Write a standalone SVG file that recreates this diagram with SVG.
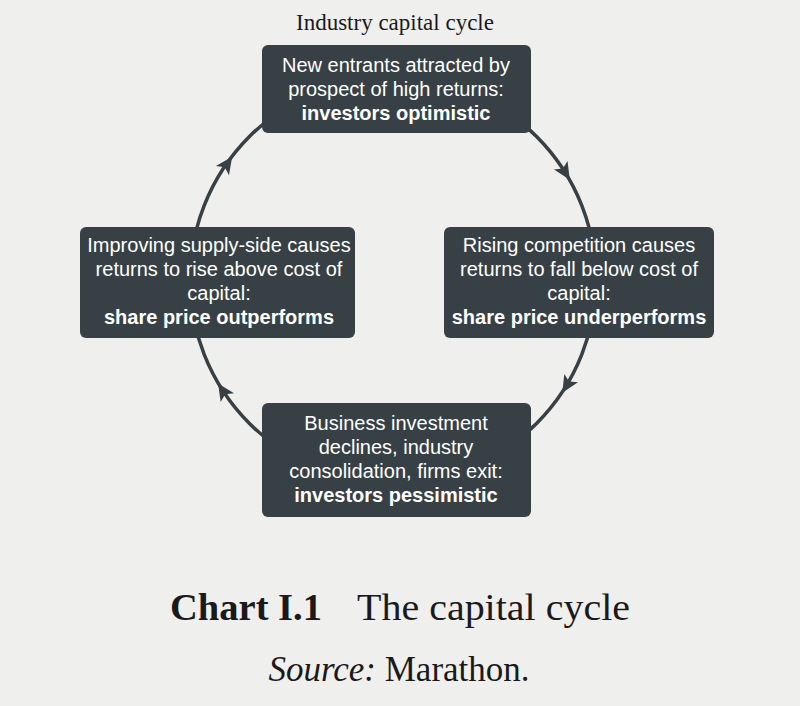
<svg xmlns="http://www.w3.org/2000/svg" width="800" height="706" viewBox="0 0 800 706">
<style>
.box{fill:#374145;}
.t{font-family:"Liberation Sans",Arial,sans-serif;font-size:20px;fill:#fff;text-anchor:middle;}
.b{font-weight:bold;}
.ser{font-family:"Liberation Serif","DejaVu Serif",serif;fill:#1a1a1a;}
.ah{fill:#374145;}
</style>
<rect width="800" height="706" fill="#efefed"/>
<text class="ser" x="395" y="30" font-size="23" text-anchor="middle">Industry capital cycle</text>
<g id="connectors">
<circle cx="393" cy="280" r="203" fill="none" stroke="#374145" stroke-width="3.5"/>
<polygon class="ah" points="9,0 -8,-8 -4,0 -8,8" transform="translate(565,172) rotate(58)"/>
<polygon class="ah" points="9,0 -8,-8 -4,0 -8,8" transform="translate(567,385) rotate(121)"/>
<polygon class="ah" points="9,0 -8,-8 -4,0 -8,8" transform="translate(223,391) rotate(237)"/>
<polygon class="ah" points="9,0 -8,-8 -4,0 -8,8" transform="translate(227,164) rotate(305)"/>
</g>
<g id="top">
<rect class="box" x="262" y="45" width="269" height="88" rx="6"/>
<text class="t" x="396" y="72">New entrants attracted by</text>
<text class="t" x="396" y="96">prospect of high returns:</text>
<text class="t b" x="396" y="120">investors optimistic</text>
</g>
<g id="right">
<rect class="box" x="444" y="227" width="270" height="111" rx="6"/>
<text class="t" x="579" y="252">Rising competition causes</text>
<text class="t" x="579" y="276">returns to fall below cost of</text>
<text class="t" x="579" y="300">capital:</text>
<text class="t b" x="579" y="324">share price underperforms</text>
</g>
<g id="bottom">
<rect class="box" x="262" y="403" width="269" height="114" rx="6"/>
<text class="t" x="396" y="430">Business investment</text>
<text class="t" x="396" y="454">declines, industry</text>
<text class="t" x="396" y="478">consolidation, firms exit:</text>
<text class="t b" x="396" y="502">investors pessimistic</text>
</g>
<g id="left">
<rect class="box" x="80" y="227" width="275" height="111" rx="6"/>
<text class="t" x="219" y="252">Improving supply-side causes</text>
<text class="t" x="219" y="276">returns to rise above cost of</text>
<text class="t" x="219" y="300">capital:</text>
<text class="t b" x="219" y="324">share price outperforms</text>
</g>
<text class="ser" x="170" y="620" font-size="38" font-weight="bold" textLength="152" lengthAdjust="spacingAndGlyphs">Chart I.1</text>
<text class="ser" x="357" y="620" font-size="38" textLength="273" lengthAdjust="spacingAndGlyphs">The capital cycle</text>
<text class="ser" x="399" y="681" font-size="35" text-anchor="middle"><tspan font-style="italic">Source:</tspan> Marathon.</text>
</svg>
